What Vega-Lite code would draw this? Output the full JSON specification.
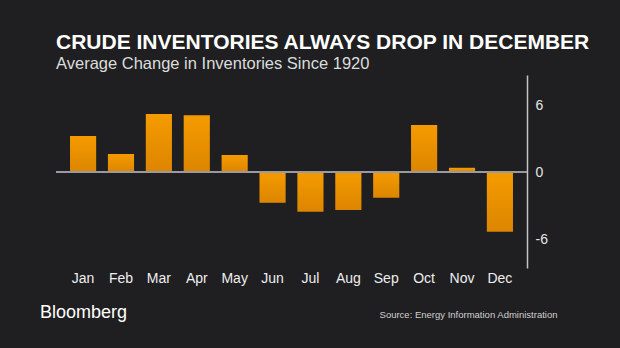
{
  "$schema": "https://vega.github.io/schema/vega-lite/v6.json",
  "width": 471,
  "height": 193,
  "autosize": "none",
  "padding": {"left": 56, "top": 75, "right": 93, "bottom": 80},
  "background": "#1f1f21",
  "config": {"view": {"stroke": null}},
  "title": {
    "text": "CRUDE INVENTORIES ALWAYS DROP IN DECEMBER",
    "subtitle": "Average Change in Inventories Since 1920",
    "anchor": "start",
    "frame": "group",
    "offset": 3,
    "font": "Liberation Sans",
    "fontSize": 21,
    "fontWeight": "bold",
    "color": "#ffffff",
    "subtitleFont": "Liberation Sans",
    "subtitleFontSize": 16.5,
    "subtitleColor": "#dcdcdc",
    "subtitlePadding": 3
  },
  "data": {
    "values": [
      {"month": "Jan", "change": 3.27},
      {"month": "Feb", "change": 1.65},
      {"month": "Mar", "change": 5.25},
      {"month": "Apr", "change": 5.13},
      {"month": "May", "change": 1.56},
      {"month": "Jun", "change": -2.74},
      {"month": "Jul", "change": -3.55},
      {"month": "Aug", "change": -3.39},
      {"month": "Sep", "change": -2.29},
      {"month": "Oct", "change": 4.26},
      {"month": "Nov", "change": 0.41},
      {"month": "Dec", "change": -5.35}
    ]
  },
  "layer": [
    {
      "mark": {
        "type": "bar",
        "color": {
          "gradient": "linear",
          "x1": 0, "y1": 0, "x2": 0, "y2": 1,
          "stops": [
            {"offset": 0, "color": "#f59b00"},
            {"offset": 1, "color": "#dc8500"}
          ]
        }
      },
      "encoding": {
        "x": {
          "field": "month",
          "type": "ordinal",
          "sort": null,
          "scale": {"paddingInner": 0.31, "paddingOuter": 0.37},
          "axis": {
            "orient": "bottom",
            "domain": false,
            "ticks": false,
            "labelAngle": 0,
            "labelPadding": 3,
            "labelFont": "Liberation Sans",
            "labelFontSize": 14,
            "labelColor": "#eeeeee",
            "title": "Source: Energy Information Administration",
            "titleFont": "Liberation Sans",
            "titleFontSize": 9.5,
            "titleFontWeight": "normal",
            "titleColor": "#cfcfcf",
            "titleAlign": "right",
            "titleAnchor": null,
            "titleX": 501,
            "titleY": 46,
            "titleBaseline": "middle"
          }
        },
        "y": {
          "field": "change",
          "type": "quantitative",
          "scale": {"domain": [-8.61, 8.76], "nice": false, "zero": false},
          "axis": {
            "orient": "right",
            "values": [-6, 0, 6],
            "labelExpr": "'' + datum.value",
            "grid": false,
            "ticks": false,
            "domain": true,
            "domainColor": "#c4c4c4",
            "domainWidth": 1.5,
            "labelPadding": 8,
            "labelFont": "Liberation Sans",
            "labelFontSize": 14,
            "labelColor": "#e6e6e6",
            "title": null
          }
        }
      }
    },
    {
      "mark": {"type": "rule", "color": "#9a9aa0", "strokeWidth": 1.5},
      "encoding": {
        "y": {
          "datum": 0,
          "type": "quantitative",
          "axis": {
            "orient": "left",
            "domain": false,
            "ticks": false,
            "labels": false,
            "grid": false,
            "title": "Bloomberg",
            "titleAngle": 0,
            "titleFont": "Liberation Sans",
            "titleFontSize": 18,
            "titleFontWeight": "normal",
            "titleColor": "#ffffff",
            "titleAlign": "center",
            "titleBaseline": "middle",
            "titleAnchor": null,
            "titleX": 27,
            "titleY": 237
          }
        }
      }
    }
  ],
  "resolve": {"axis": {"y": "independent"}}
}
